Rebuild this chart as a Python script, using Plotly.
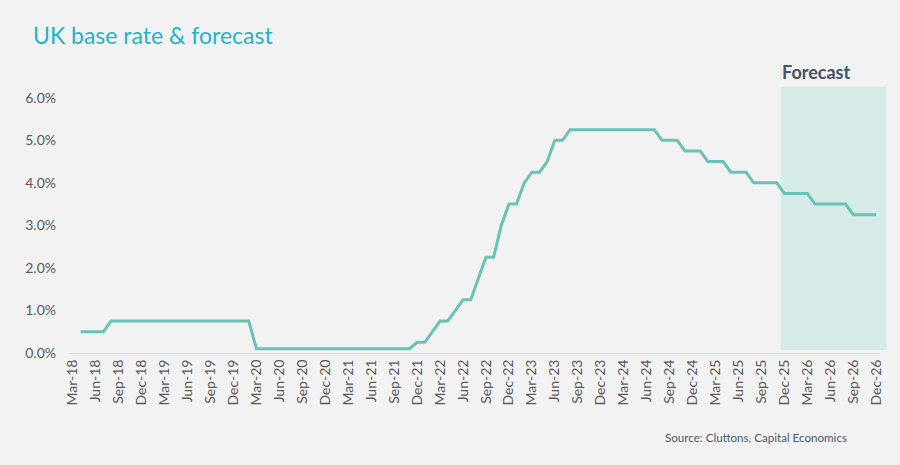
import pandas as pd
import plotly.graph_objects as go

# Monthly categories Mar-18 .. Dec-26
months = list(pd.date_range("2018-03-01", "2026-12-01", freq="MS").strftime("%b-%y"))
tick_labels = months[::3]

# UK base rate (%), one value per month (None = no data)
rate = (
    [None, 0.5, 0.5, 0.5, 0.5, 0.75]                       # Mar-18 .. Aug-18
    + [0.75] * 18                                           # Sep-18 .. Feb-20
    + [0.1] * 21                                            # Mar-20 .. Nov-21
    + [0.25, 0.25, 0.5, 0.75, 0.75, 1.0, 1.25, 1.25,        # Dec-21 .. Jul-22
       1.75, 2.25, 2.25, 3.0, 3.5, 3.5, 4.0, 4.25,          # Aug-22 .. Mar-23
       4.25, 4.5, 5.0, 5.0, 5.25]                           # Apr-23 .. Aug-23
    + [5.25] * 11                                           # Sep-23 .. Jul-24
    + [5.0, 5.0, 5.0, 4.75, 4.75, 4.75, 4.5, 4.5, 4.5,      # Aug-24 .. Apr-25
       4.25, 4.25, 4.25, 4.0, 4.0, 4.0, 4.0,                # May-25 .. Nov-25
       3.75, 3.75, 3.75, 3.75, 3.5, 3.5, 3.5, 3.5, 3.5,     # Dec-25 .. Aug-26
       3.25, 3.25, 3.25, 3.25]                              # Sep-26 .. Dec-26
)
forecast_start = "Dec-25"

y_ticks = [0, 1, 2, 3, 4, 5, 6]
y_tick_text = [f"{v:.1f}%" for v in y_ticks]

y_max = 6.3
n = len(months)
x_lo, x_hi = -0.5, n - 0.5

fig = go.Figure()
fig.add_trace(go.Scatter(
    x=months, y=rate, mode="lines",
    line=dict(color="#68c3b5", width=3),
    connectgaps=False, hoverinfo="skip", showlegend=False,
))

# Forecast shaded band (paper coordinates derived from category index)
fx0 = (months.index(forecast_start) - 0.5 - x_lo) / (x_hi - x_lo)
fig.add_shape(type="rect", xref="paper", yref="paper",
              x0=fx0, x1=1.008, y0=0.07 / y_max, y1=6.26 / y_max,
              fillcolor="#d6ebe8", line=dict(width=0), layer="below")
fig.add_annotation(xref="paper", yref="paper", x=fx0 - 0.001, y=1.0,
                   xanchor="left", yanchor="bottom", yshift=0,
                   text="<b>Forecast</b>", showarrow=False,
                   font=dict(family="Lato", size=18, color="#44546a"))

fig.add_annotation(xref="paper", yref="paper", x=0.732, y=-0.317,
                   xanchor="left", yanchor="middle",
                   text="Source: Cluttons, Capital Economics", showarrow=False,
                   font=dict(family="Lato", size=11.6, color="#4a5868"))

fig.update_layout(
    width=900, height=465,
    paper_bgcolor="#f2f2f2", plot_bgcolor="#f2f2f2",
    margin=dict(l=69, r=20, t=85, b=112),
    title=dict(text="UK base rate & forecast", xref="container", yref="container",
               x=33 / 900, y=1 - 36 / 465, xanchor="left", yanchor="middle",
               font=dict(family="Lato", size=23, color="#1fb4c8")),
    font=dict(family="Lato", color="#595959"),
    xaxis=dict(type="category", categoryorder="array", categoryarray=months,
               range=[x_lo, x_hi], tickmode="array", tickvals=tick_labels,
               ticktext=tick_labels, tickangle=-90, showgrid=False,
               showline=True, linecolor="#d9d9d9", linewidth=1,
               ticks="", tickfont=dict(size=14, color="#595959"), zeroline=False),
    yaxis=dict(range=[0, y_max], tickmode="array", tickvals=y_ticks,
               ticktext=y_tick_text, showgrid=False, zeroline=False,
               showline=False, ticks="", ticklabelstandoff=12,
               tickfont=dict(size=14, color="#595959")),
)

fig.write_html("out.html")
